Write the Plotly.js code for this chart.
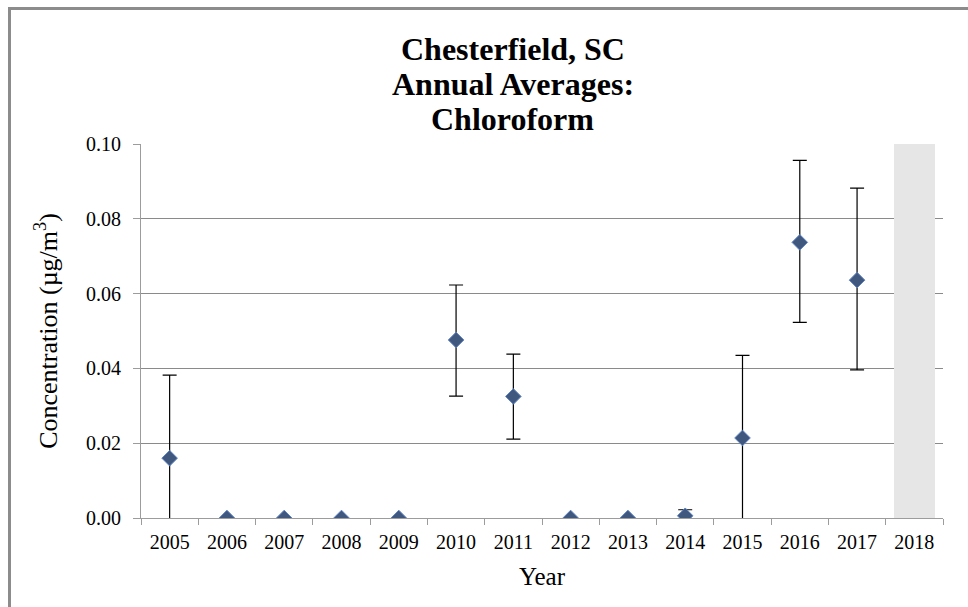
<!DOCTYPE html>
<html>
<head>
<meta charset="utf-8">
<script src="https://cdn.plot.ly/plotly-3.0.1.min.js"></script>
<style>
  body { margin: 0; background: #fff; }
  #plot { width: 968px; height: 607px; }
  #frame { position: absolute; left: 8px; top: 7px; width: 970px; height: 610px;
           border-left: 3px solid #8c8c8c; border-top: 3px solid #8c8c8c; pointer-events: none; }
</style>
</head>
<body>
<div id="plot"></div>
<div id="frame"></div>
<script>
// all years on the axis
var years = ["2005", "2006", "2007", "2008", "2009", "2010", "2011",
             "2012", "2013", "2014", "2015", "2016", "2017", "2018"];

// annual averages (ug/m3), 2005-2017
var avgYears = ["2005", "2006", "2007", "2008", "2009", "2010", "2011",
                "2012", "2013", "2014", "2015", "2016", "2017"];
var averages = [0.0160, 0, 0, 0, 0, 0.0476, 0.0325, 0, 0, 0.0006, 0.0214, 0.0737, 0.0636];
var errUp    = [0.0222, 0, 0, 0, 0, 0.0147, 0.0113, 0, 0, 0.0016, 0.0221, 0.0219, 0.0246];
var errDown  = [0.0222, 0, 0, 0, 0, 0.0150, 0.0114, 0, 0, 0.0016, 0.0221, 0.0214, 0.0240];

// incomplete year shaded
var shadedYears = ["2018"];
var shadedTop = [0.10];

// title lines
var titleLines = ["Chesterfield, SC", "Annual Averages:", "Chloroform"];

var serif = "Liberation Serif, Times New Roman, serif";

// shaded column for 2018
var trace1 = {
    x: shadedYears,
    y: shadedTop,
    type: "bar",
    width: 0.72,
    marker: {color: "#e6e6e6"},
    hoverinfo: "skip",
    showlegend: false
};

// averages with error bars
var trace2 = {
    x: avgYears,
    y: averages,
    type: "scatter",
    mode: "markers",
    marker: {symbol: "diamond", size: 12, color: "#41587e",
             line: {color: "#5f84c4", width: 1}},
    error_y: {type: "data", symmetric: false, array: errUp, arrayminus: errDown,
              color: "#000", thickness: 1.2, width: 7},
    showlegend: false
};

var data = [trace1, trace2];

// title drawn line by line so the spacing matches
var titleY = [1.255, 1.16, 1.066];
var annotations = titleLines.map(function (t, i) {
    return {
        text: "<b>" + t + "</b>",
        xref: "paper", yref: "paper",
        x: 0.4638, y: titleY[i],
        xanchor: "center", yanchor: "middle",
        showarrow: false,
        font: {family: serif, size: 32, color: "#000"}
    };
});

var layout = {
    width: 968,
    height: 607,
    paper_bgcolor: "#fff",
    plot_bgcolor: "#fff",
    margin: {l: 141, r: 25, t: 144, b: 89},
    font: {family: serif, size: 20, color: "#000"},
    annotations: annotations,
    xaxis: {
        type: "category",
        categoryorder: "array",
        categoryarray: years,
        range: [-0.5, 13.5],
        tickson: "boundaries",
        ticks: "outside",
        ticklen: 6,
        tickcolor: "#9c9c9c",
        ticklabelstandoff: 6,
        showline: true,
        linecolor: "#9c9c9c",
        linewidth: 1,
        showgrid: false,
        zeroline: false,
        tickfont: {family: serif, size: 20},
        title: {text: "Year", font: {family: serif, size: 25}, standoff: 15}
    },
    yaxis: {
        range: [0, 0.1],
        dtick: 0.02,
        tickformat: ".2f",
        ticks: "outside",
        ticklen: 7,
        tickcolor: "#9c9c9c",
        ticklabelstandoff: 8,
        showline: true,
        linecolor: "#9c9c9c",
        linewidth: 1,
        showgrid: true,
        gridcolor: "#8a8a8a",
        gridwidth: 1,
        zeroline: false,
        tickfont: {family: serif, size: 20},
        title: {text: "Concentration (µg/m<sup>3</sup>)", font: {family: serif, size: 26}, standoff: 20}
    },
    bargap: 0
};

Plotly.newPlot("plot", data, layout, {displayModeBar: false, staticPlot: true});
</script>
</body>
</html>
